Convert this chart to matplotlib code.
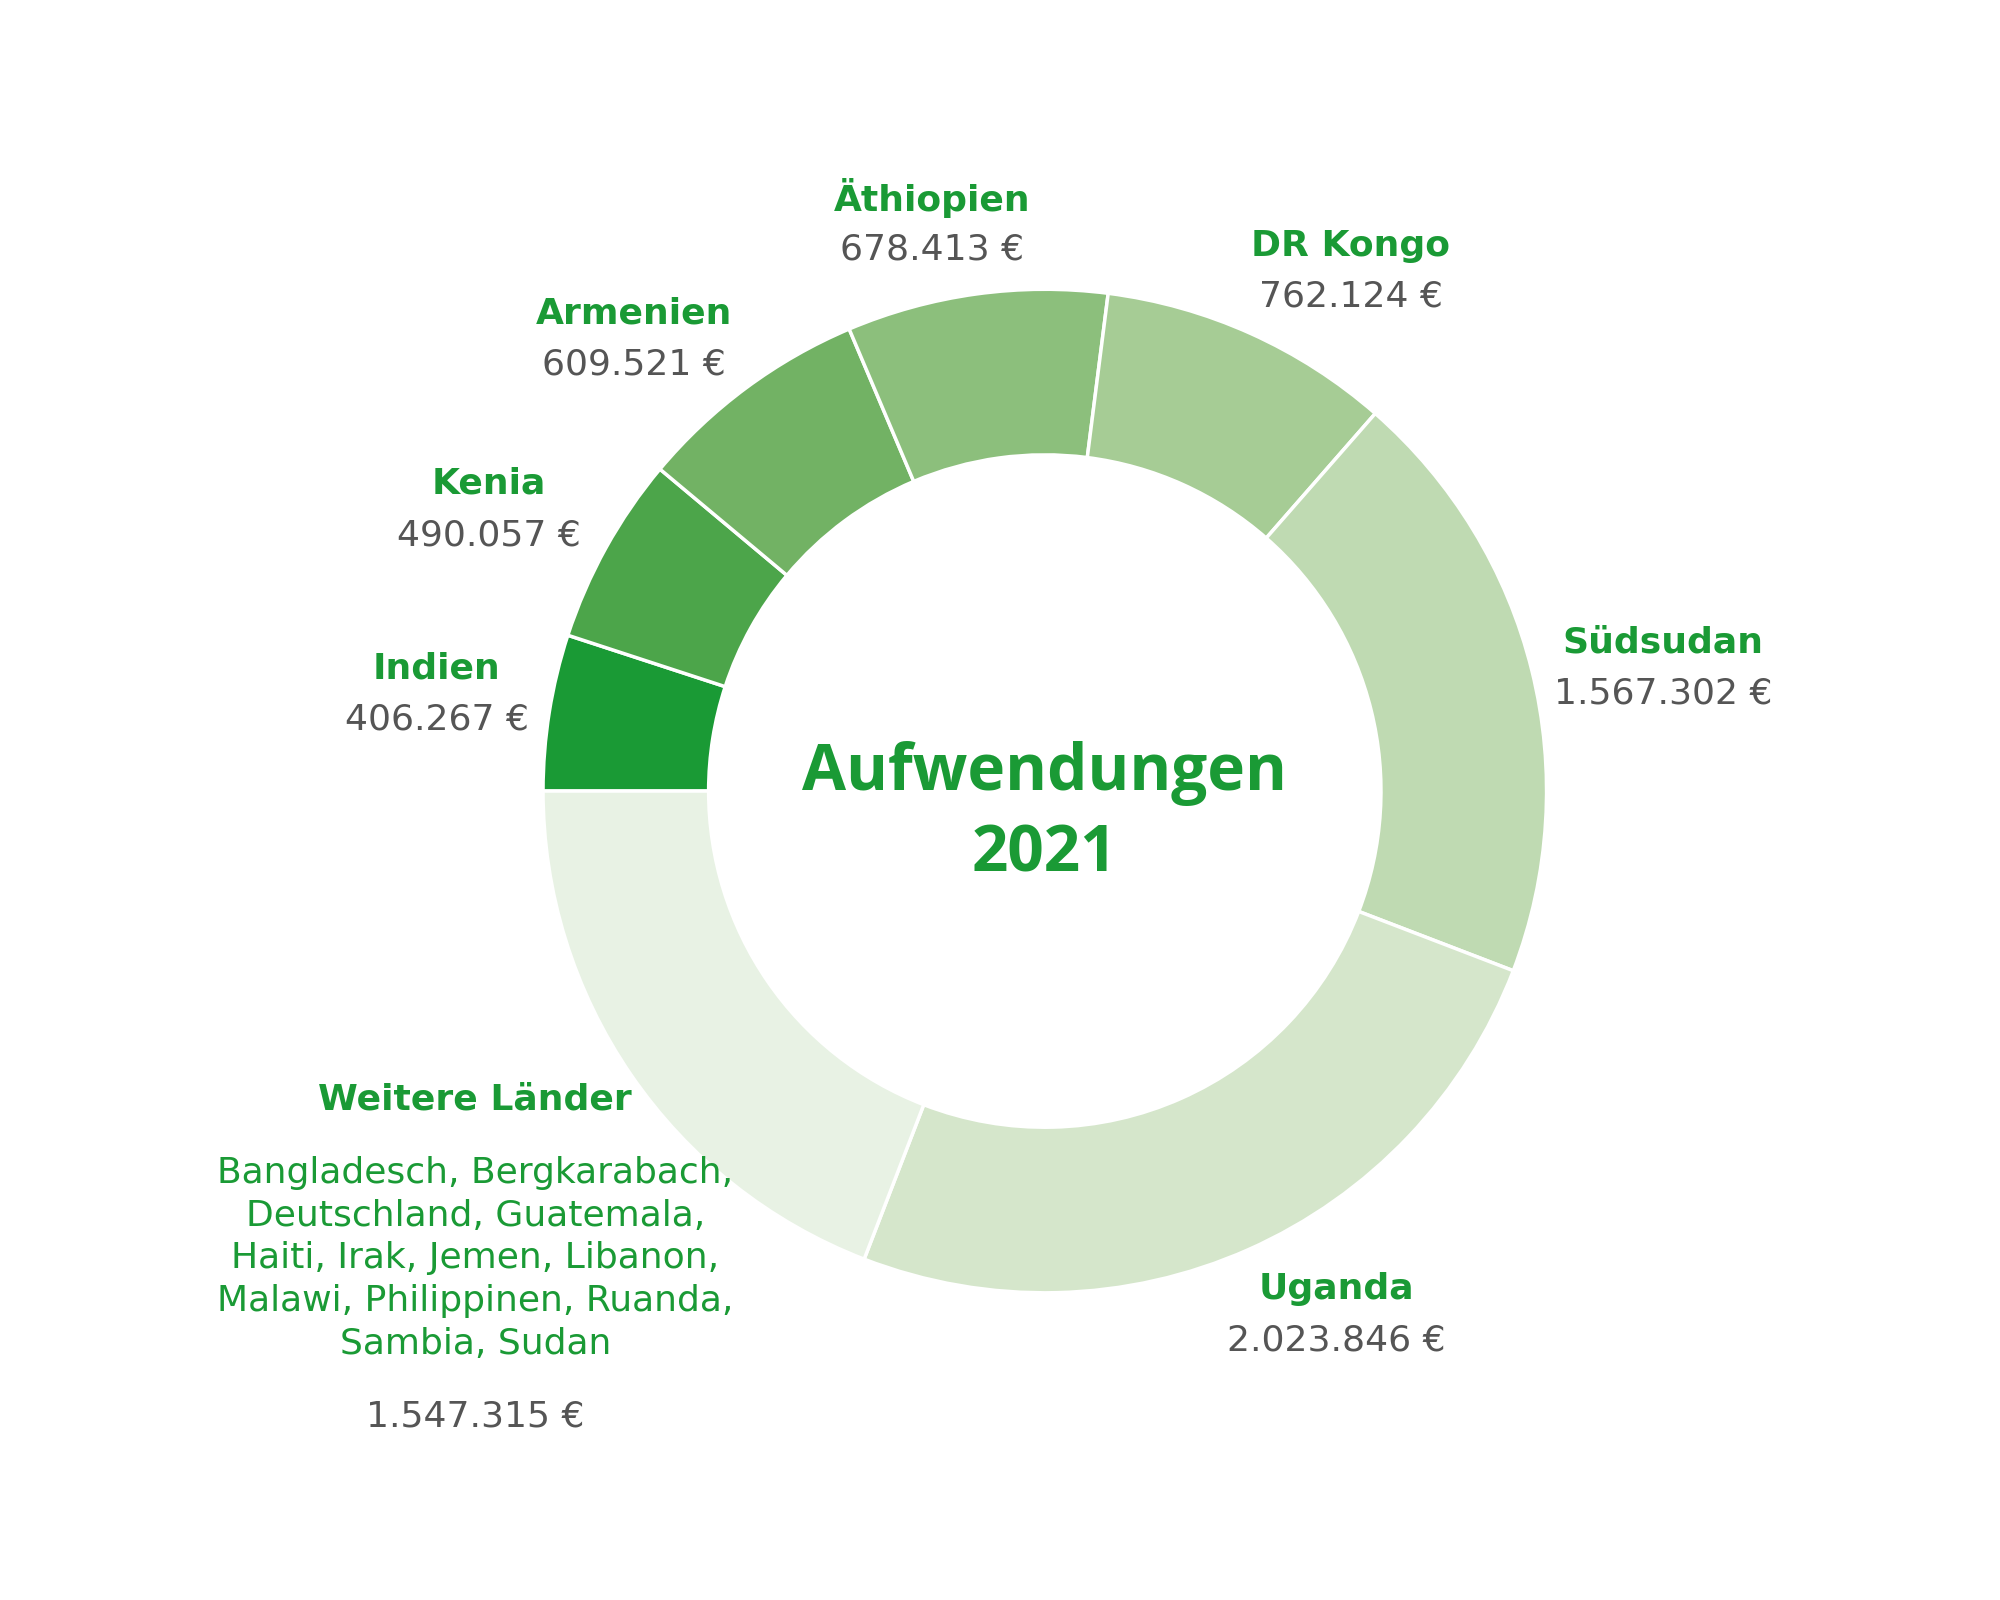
import matplotlib
matplotlib.use("Agg")
import matplotlib.pyplot as plt

countries = ["Indien", "Kenia", "Armenien", "Äthiopien", "DR Kongo", "Südsudan", "Uganda", "Weitere Länder"]
values = [406267, 490057, 609521, 678413, 762124, 1567302, 2023846, 1547315]
value_labels = ["406.267 €", "490.057 €", "609.521 €", "678.413 €", "762.124 €", "1.567.302 €", "2.023.846 €", "1.547.315 €"]
colors = ["#1a9a35", "#4ca54a", "#72b264", "#8cbf7c", "#a6cc95", "#bfdab2", "#d5e6cb", "#e8f2e4"]
weitere_text = "Bangladesch, Bergkarabach,\nDeutschland, Guatemala,\nHaiti, Irak, Jemen, Libanon,\nMalawi, Philippinen, Ruanda,\nSambia, Sudan"

W, H = 1560, 1250
fig = plt.figure(figsize=(20, 16), dpi=100)
ax = fig.add_axes([0, 0, 1, 1])
ax.set_xlim(0, W); ax.set_ylim(0, H); ax.set_aspect("equal"); ax.axis("off")

cx, cy, R = 815, H - 618, 392
ax.pie(values, colors=colors, startangle=180, counterclock=False, center=(cx, cy), radius=R,
       wedgeprops=dict(width=R * 0.33, edgecolor="white", linewidth=2.5))
ax.set_xlim(0, W); ax.set_ylim(0, H); ax.set_aspect("equal")

green = "#1a9a35"; grey = "#555555"
fn = "Liberation Sans Narrow"
pos = [(340, 522), (381, 378), (494, 245), (727, 155), (1054, 192), (1298, 502), (1043, 1007)]
for (x, y), name, val in zip(pos, countries[:7], value_labels[:7]):
    ax.text(x, H - y, name, ha="center", va="center", fontsize=26, fontweight="bold", color=green, family=fn)
    ax.text(x, H - y - 40, val, ha="center", va="center", fontsize=26, color=grey, family=fn)

ax.text(370, H - 859, countries[7], ha="center", va="center", fontsize=26, fontweight="bold", color=green, family=fn)
ax.text(370, H - 983, weitere_text, ha="center", va="center", fontsize=26, color=green, family=fn, linespacing=1.32)
ax.text(370, H - 1107, value_labels[7], ha="center", va="center", fontsize=26, color=grey, family=fn)

ax.text(cx, cy + 14, "Aufwendungen", ha="center", va="center", fontsize=46, fontweight="bold", color=green, family="Open Sans")
ax.text(cx, cy - 50, "2021", ha="center", va="center", fontsize=46, fontweight="bold", color=green, family="Open Sans")

fig.savefig("out.png", dpi=100, facecolor="white")
